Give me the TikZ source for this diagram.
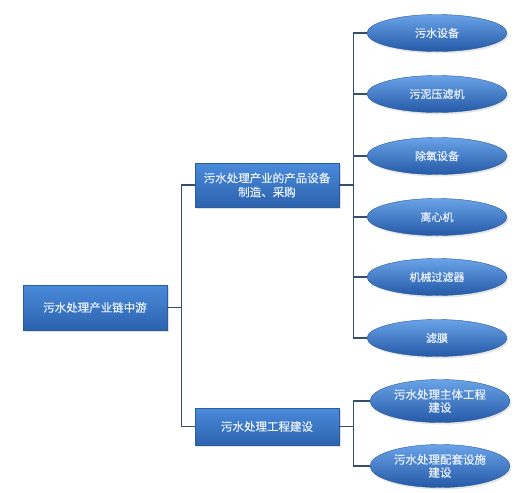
\documentclass[tikz,border=0pt]{standalone}
\usepackage{fontspec}
\setmainfont[FakeBold=0.6]{Noto Sans CJK SC}
\usetikzlibrary{shadows,shapes.geometric}
\definecolor{boxtop}{HTML}{4A8BDB}
\definecolor{boxbot}{HTML}{2C62AE}
\definecolor{boxedge}{HTML}{2B5C9C}
\definecolor{elltop}{HTML}{6AA3E8}
\definecolor{ellmid}{HTML}{3A7BD0}
\definecolor{ellbot}{HTML}{2459A6}
\definecolor{linec}{HTML}{344F6E}
\definecolor{txt}{HTML}{E8F0FC}
\tikzset{
  bluebox/.style={rectangle, draw=boxedge, line width=0.5pt, top color=boxtop, bottom color=boxbot,
    minimum width=144pt, text=txt, align=center, inner sep=2pt,
    font=\fontsize{11.5}{14}\selectfont,
    drop shadow={opacity=0.25, shadow xshift=1.5pt, shadow yshift=-2pt}},
  blueell/.style={ellipse, draw=boxedge, line width=0.4pt, shading=axis, top color=elltop, middle color=ellmid, bottom color=ellbot,
    minimum width=140pt, minimum height=37pt, inner sep=0pt, text=txt, align=center,
    font=\fontsize{11}{13}\selectfont,
    drop shadow={opacity=0.2, shadow xshift=1.5pt, shadow yshift=-2pt}},
  bigell/.style={blueell, minimum height=43pt, font=\fontsize{11.5}{13}\selectfont},
  conn/.style={draw=linec, line width=1.1pt}
}
\begin{document}
\begin{tikzpicture}[x=1pt, y=-1pt]
\useasboundingbox (0,0) rectangle (520,493);
% main boxes
\node[bluebox, minimum height=45pt] (root) at (95,307.5) {污水处理产业链中游};
\node[bluebox, minimum height=44pt] (mid1) at (267,185) {污水处理产业的产品设备\\制造、采购};
\node[bluebox, minimum height=37pt] (mid2) at (267,426.5) {污水处理工程建设};
% ellipses
\node[blueell] (e1) at (437,33) {污水设备};
\node[blueell] (e2) at (437,94) {污泥压滤机};
\node[blueell] (e3) at (437,156) {除氧设备};
\node[blueell] (e4) at (437,217) {离心机};
\node[blueell] (e5) at (437,277) {机械过滤器};
\node[blueell] (e6) at (437,338) {滤膜};
\node[bigell] (b1) at (440,401) {污水处理主体工程\\建设};
\node[bigell] (b2) at (440,466) {污水处理配套设施\\建设};
% junctions
\coordinate (j1) at (181.5,307.5);
\coordinate (j2) at (353.5,185);
\coordinate (j3) at (353.5,426.5);
% connectors
\draw[conn] (root.east) -- (j1);
\draw[conn] (j1) |- (mid1.west);
\draw[conn] (j1) |- (mid2.west);
\draw[conn] (mid1.east) -- (j2);
\foreach \e in {e1,e2,e3,e4,e5,e6} {\draw[conn] (j2) |- (\e.west);}
\draw[conn] (mid2.east) -- (j3);
\draw[conn] (j3) |- (b1.west);
\draw[conn] (j3) |- (b2.west);
\end{tikzpicture}
\end{document}
